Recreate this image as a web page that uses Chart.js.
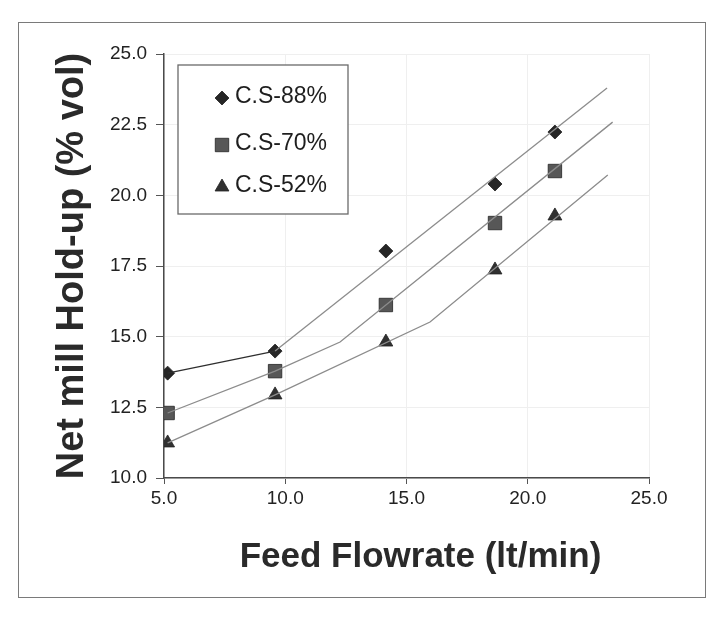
<!DOCTYPE html>
<html>
<head>
<meta charset="utf-8">
<script src="https://cdn.jsdelivr.net/npm/chart.js@4.4.0/dist/chart.umd.min.js"></script>
<style>
  html, body { margin: 0; padding: 0; background: #ffffff; }
  #wrap { position: relative; width: 724px; height: 628px; }
  #frame { position: absolute; left: 18px; top: 22px; width: 686px; height: 574px;
           border: 1.5px solid #7a7a7a; pointer-events: none; }
  canvas { position: absolute; left: 0; top: 0; }
</style>
</head>
<body>
<div id="wrap">
  <canvas id="c" width="724" height="628"></canvas>
  <div id="frame"></div>
</div>
<script>
// ---- data ----
const seriesNames = ['C.S-88%', 'C.S-70%', 'C.S-52%'];
const xTitle = 'Feed Flowrate (lt/min)';
const yTitle = 'Net mill Hold-up (% vol)';
const flow = [5.15, 9.58, 14.15, 18.65, 21.12];
const cs88 = [13.71, 14.49, 18.03, 20.40, 22.24];
const cs70 = [12.30, 13.78, 16.12, 19.02, 20.86];
const cs52 = [11.24, 12.94, 14.81, 17.36, 19.27];
// trend-line vertices
const fit88X = [5.15, 9.58, 23.27];
const fit88Y = [13.71, 14.49, 23.80];
const fit70X = [5.15, 9.58, 12.26, 23.50];
const fit70Y = [12.30, 13.78, 14.81, 22.59];
const fit52X = [5.15, 9.58, 15.97, 23.30];
const fit52Y = [11.24, 12.94, 15.52, 20.72];
const xTicks = [5, 10, 15, 20, 25];
const yTicks = [10, 12.5, 15, 17.5, 20, 22.5, 25];

const pts = (xs, ys) => xs.map((x, i) => ({ x: x, y: ys[i] }));
const FONT = '"Liberation Sans", Arial, Helvetica, sans-serif';

const markerDefs = [
  { style: 'rectRot', radius: 7, color: '#262626' },
  { style: 'rect', radius: 9.5, color: '#575757' },
  { style: 'triangle', radius: 8, color: '#303030' }
];

function lineSet(xs, ys, firstColor, color) {
  return {
    type: 'line', data: pts(xs, ys), showLine: true, pointRadius: 0,
    borderColor: color, borderWidth: 1.3, fill: false, tension: 0,
    segment: { borderColor: c => c.p0DataIndex === 0 ? firstColor : color },
    isFit: true
  };
}
function markerSet(name, ys, m) {
  return {
    type: 'scatter', label: name, data: pts(flow, ys), showLine: false,
    pointStyle: m.style, pointRadius: m.radius, pointHoverRadius: m.radius,
    backgroundColor: m.color, borderColor: '#222', borderWidth: 0.8
  };
}

const legendPlugin = {
  id: 'boxLegend',
  afterDatasetsDraw(chart) {
    const ctx = chart.ctx;
    const bx = 178, by = 65, bw = 170, bh = 149;
    ctx.save();
    ctx.fillStyle = '#ffffff';
    ctx.fillRect(bx, by, bw, bh);
    ctx.strokeStyle = '#6a6a6a';
    ctx.lineWidth = 1.3;
    ctx.strokeRect(bx, by, bw, bh);
    const rows = [97, 144, 186];
    const markers = chart.data.datasets.filter(d => !d.isFit);
    markers.forEach((d, i) => {
      ctx.fillStyle = d.backgroundColor;
      ctx.strokeStyle = d.borderColor;
      ctx.lineWidth = 0.8;
      Chart.helpers.drawPoint(ctx, { pointStyle: d.pointStyle, radius: d.pointRadius, borderWidth: 0.8 }, 222, rows[i] + 1);
      ctx.fillStyle = '#1e1e1e';
      ctx.font = '23px ' + FONT;
      ctx.textBaseline = 'middle';
      ctx.textAlign = 'left';
      ctx.fillText(d.label, 235, rows[i]);
    });
    // x-axis title, centred where the reference has it
    ctx.fillStyle = '#2a2a2a';
    ctx.font = 'bold 35px ' + FONT;
    ctx.textAlign = 'center';
    ctx.textBaseline = 'middle';
    const xs = chart.scales.x;
    ctx.fillText(xTitle, (xs.left + xs.right) / 2 + 14, 557);
    ctx.restore();
  }
};

new Chart(document.getElementById('c'), {
  data: {
    datasets: [
      lineSet(fit88X, fit88Y, '#2e2e2e', '#8c8c8c'),
      lineSet(fit70X, fit70Y, '#8c8c8c', '#8c8c8c'),
      lineSet(fit52X, fit52Y, '#8c8c8c', '#8c8c8c'),
      markerSet(seriesNames[0], cs88, markerDefs[0]),
      markerSet(seriesNames[1], cs70, markerDefs[1]),
      markerSet(seriesNames[2], cs52, markerDefs[2])
    ]
  },
  options: {
    responsive: false,
    animation: false,
    events: [],
    layout: { padding: { left: 0, top: 54, right: 75, bottom: 0 } },
    plugins: { legend: { display: false }, tooltip: { enabled: false } },
    scales: {
      x: {
        type: 'linear', min: 5, max: 25,
        afterFit: s => { s.height = 150; },
        afterBuildTicks: s => { s.ticks = xTicks.map(v => ({ value: v })); },
        border: { color: '#4a4a4a', width: 1.5 },
        grid: { color: '#efefef', lineWidth: 1, tickLength: 6, tickColor: '#555' },
        ticks: { padding: 3, color: '#222', font: { family: FONT, size: 19 },
                 callback: v => v.toFixed(1), maxRotation: 0 },
        title: { display: false, text: xTitle }
      },
      y: {
        type: 'linear', min: 10, max: 25,
        afterFit: s => { s.width = 164; },
        afterBuildTicks: s => { s.ticks = yTicks.map(v => ({ value: v })); },
        border: { color: '#4a4a4a', width: 1.5 },
        grid: { color: '#efefef', lineWidth: 1, tickLength: 8, tickColor: '#555' },
        ticks: { padding: 9, color: '#222', font: { family: FONT, size: 19 },
                 callback: v => v.toFixed(1) },
        title: { display: true, text: yTitle, color: '#2a2a2a',
                 font: { family: FONT, size: 38, weight: 'bold' },
                 padding: { top: 50, bottom: 0 } }
      }
    }
  },
  plugins: [legendPlugin]
});
</script>
</body>
</html>
